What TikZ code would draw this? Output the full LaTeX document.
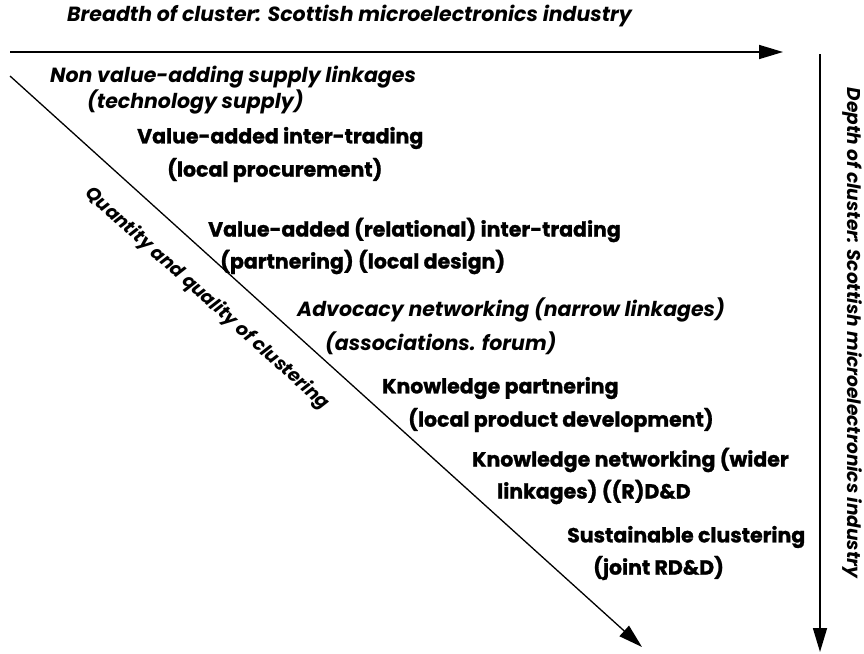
\documentclass[tikz,border=0pt]{standalone}
\usepackage{fontspec}
\setsansfont{Poppins}[BoldFeatures={FakeBold=1.2}]
\usetikzlibrary{arrows.meta}
\begin{document}
\begin{tikzpicture}[x=1pt,y=-1pt,
  lbl/.style={font=\sffamily\bfseries\fontsize{20.5}{24}\selectfont,anchor=west,inner sep=0pt},
  ilbl/.style={lbl,font=\sffamily\bfseries\itshape\fontsize{20.5}{24}\selectfont},
  slbl/.style={ilbl,anchor=center,font=\sffamily\bfseries\itshape\fontsize{18.5}{22}\selectfont},
  arr/.style={line width=1.6pt,-{Triangle[length=24pt,width=14pt]}}]
  \useasboundingbox (0,0) rectangle (864,653);
  \coordinate (hs) at (10,52); \coordinate (he) at (783,52);
  \coordinate (vs) at (820,54); \coordinate (ve) at (820,652);
  \coordinate (ds) at (10,76); \coordinate (de) at (642,647);
  \draw[arr] (hs)--(he); \draw[arr] (vs)--(ve); \draw[arr,line width=1.3pt] (ds)--(de);
  \node[ilbl] (breadth) at (67,16) {Breadth of cluster: Scottish microelectronics industry};
  \node[slbl,rotate=-90] (depth) at (852,333) {Depth of cluster: Scottish microelectronics industry};
  \node[slbl,rotate=-42] (qty) at (207,299) {Quantity and quality of clustering};
  \node[ilbl] (nva1) at (50,77) {Non value-adding supply linkages}; \node[ilbl] (nva2) at (87,102) {(technology supply)};
  \node[lbl] (vai1) at (137,138) {Value-added inter-trading}; \node[lbl] (vai2) at (167,170) {(local procurement)};
  \node[lbl] (var1) at (208,230) {Value-added (relational) inter-trading}; \node[lbl] (var2) at (220,262) {(partnering) (local design)};
  \node[ilbl] (adv1) at (297,310) {Advocacy networking (narrow linkages)}; \node[ilbl] (adv2) at (325,343) {(associations. forum)};
  \node[lbl] (kp1) at (382,388) {Knowledge partnering}; \node[lbl] (kp2) at (408,420) {(local product development)};
  \node[lbl] (kn1) at (472,460) {Knowledge networking (wider}; \node[lbl] (kn2) at (497,492) {linkages) ((R)D\&D};
  \node[lbl] (sc1) at (567,537) {Sustainable clustering}; \node[lbl] (sc2) at (593,568) {(joint RD\&D)};
\end{tikzpicture}
\end{document}
